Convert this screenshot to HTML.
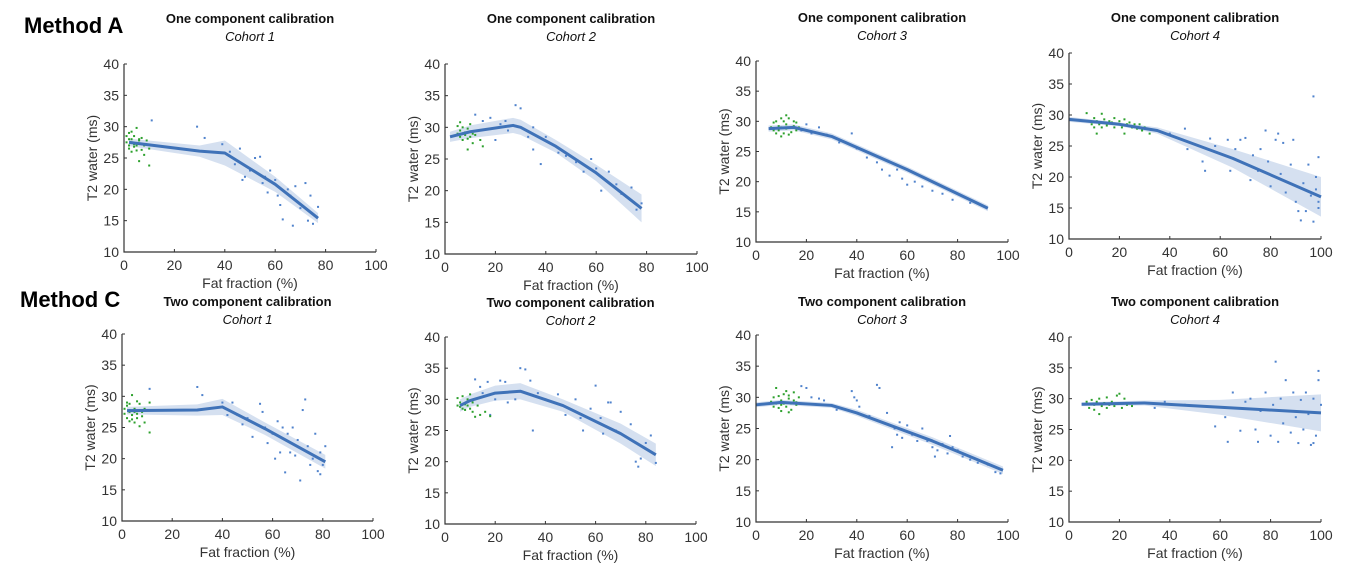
<!DOCTYPE html>
<html><head><meta charset="utf-8">
<style>
body{margin:0;background:#fff;width:1356px;height:586px;overflow:hidden;font-family:"Liberation Sans",sans-serif}
svg{display:block}
.tt{font-family:"Liberation Sans",sans-serif;font-weight:bold;font-size:13px;fill:#111}
.ti{font-family:"Liberation Sans",sans-serif;font-style:italic;font-size:13px;fill:#111}
.tk{font-size:14px;fill:#333;font-family:"Liberation Sans",sans-serif}
.al{font-size:14px;fill:#333;font-family:"Liberation Sans",sans-serif}
.meth{font-family:"Liberation Sans",sans-serif;font-weight:bold;font-size:22px;fill:#000}
</style></head><body>
<svg id="fig" width="1356" height="586">
<text class="meth" x="24" y="33">Method A</text>
<text class="meth" x="20" y="307">Method C</text>
</svg>
<script>
const panelNames=["a-cohort1","a-cohort2","a-cohort3","a-cohort4","c-cohort1","c-cohort2","c-cohort3","c-cohort4"];
const panelTitles=["One component calibration","One component calibration","One component calibration","One component calibration","Two component calibration","Two component calibration","Two component calibration","Two component calibration"];
const panelCohorts=["Cohort 1","Cohort 2","Cohort 3","Cohort 4","Cohort 1","Cohort 2","Cohort 3","Cohort 4"];
const xTicks=[0,20,40,60,80,100];
const yTicks=[10,15,20,25,30,35,40];
// fit lines: [x, y, halfwidth of CI]
const fitLines=[
[[2,27.5,0.6],[30,26.1,0.9],[40,25.8,2.0],[60,20.8,1.2],[77,15.4,0.8]],
[[2,28.5,0.8],[10,29.3,1.0],[27,30.3,1.2],[30,30,1.2],[44,27,1.0],[60,22.8,1.3],[78,17.2,2.2]],
[[5,28.8,0.5],[15,29,0.5],[30,27.5,0.5],[60,22,0.5],[92,15.6,0.5]],
[[0,29.3,0.4],[20,28.5,0.3],[35,27.5,0.5],[65,23,1.5],[100,16.8,3.2]],
[[2,27.7,0.6],[30,27.8,0.9],[40,28.3,1.3],[57,24.8,1.0],[81,19.5,1.1]],
[[6,29,1.0],[10,29.8,1.0],[20,31,1.2],[30,31.3,1.3],[47,29,1.0],[70,24.5,1.6],[84,21.1,1.8]],
[[0,28.8,0.4],[10,29.2,0.4],[30,28.7,0.4],[40,27.5,0.5],[70,23,0.6],[98,18.3,0.6]],
[[5,29.1,0.3],[30,29.3,0.4],[60,28.6,1.2],[100,27.7,3.0]]
];
const bluePts=[
[[11,31],[29,30],[32,28.2],[39,27.2],[42,26],[44,24],[46,26.5],[48,22],[50,23],[52,25],[54,25.2],[55,21],[56,22],[58,23],[60,21.5],[61,19],[62,17.5],[63,15.2],[65,20],[66,19],[67,14.2],[68,20.5],[70,17],[72,21],[73,15],[74,19],[75,14.5],[77,17.2],[47,21.5],[57,19.5]],
[[12,32],[15,31],[18,31.5],[22,30.5],[25,29.5],[28,33.5],[30,33],[33,28.5],[35,30],[38,24.2],[40,28.5],[45,26],[48,25.5],[52,24.5],[55,23],[58,25],[60,23.5],[62,20],[65,23],[68,21],[70,19.5],[72,19],[74,20.5],[76,17],[78,18],[20,28],[24,31],[35,26.5]],
[[18,28.5],[22,28],[25,29],[28,27.8],[38,28],[40,25.5],[44,24],[48,23.2],[50,22],[53,21],[56,22],[58,20.5],[60,19.5],[63,20],[66,19.2],[70,18.5],[74,18],[78,17],[85,16.5],[91,15.8],[20,29.5],[33,26.5]],
[[40,27],[46,27.8],[47,24.5],[53,22.5],[54,21],[56,26.2],[58,25],[63,26],[64,21],[66,24.5],[68,26],[70,26.3],[72,19.5],[73,23.5],[75,21],[76,24.5],[78,27.5],[79,22.5],[80,18.5],[82,26],[83,27],[84,20.5],[85,25.5],[86,17.5],[88,22],[89,26],[90,16],[91,14.5],[92,13],[93,19],[94,14.5],[95,22],[96,17],[97,33],[97,12.8],[98,20],[99,15],[99,23.2],[99,16],[98,18]],
[[11,31.2],[30,31.5],[32,30.2],[40,29],[42,27],[44,29],[46,27],[48,25.5],[50,26.5],[52,23.5],[55,28.8],[56,27.5],[57,25],[58,22.5],[60,24],[61,20],[62,26],[63,21],[64,25],[65,17.8],[66,24],[67,21],[68,25],[69,20.5],[70,23],[71,16.5],[72,27.8],[73,29.5],[74,22],[75,19],[76,20],[77,24],[78,18],[79,21],[80,19],[81,22],[79,17.5]],
[[12,33.2],[14,32],[15,31],[17,32.8],[20,30],[22,33],[24,32.8],[25,29.5],[28,30],[30,35],[32,34.8],[34,33],[35,25],[37,31],[40,30],[45,30.8],[48,27.5],[52,30],[54,27],[55,25],[58,28.5],[60,32.2],[62,27],[63,24.5],[65,29.5],[66,29.5],[68,25],[70,28],[72,24],[74,26],[76,20],[77,19.2],[78,20.5],[80,23],[82,24.2],[84,19.8],[18,27.5]],
[[18,31.8],[20,31.5],[22,30],[25,29.8],[27,29.5],[32,28],[38,31],[39,30],[40,29.5],[41,28.5],[45,27],[48,32],[49,31.5],[50,26],[52,27.5],[54,22],[55,25],[56,24],[57,26],[58,23.5],[60,25.5],[62,24],[64,23],[66,25],[68,23],[70,22],[71,20.5],[72,21.5],[74,22.5],[76,21],[77,23.8],[78,22],[80,21.5],[82,20.5],[85,20],[88,19.5],[92,19.2],[95,18],[97,17.8]],
[[34,28.5],[38,29.5],[46,29],[58,25.5],[62,27],[63,23],[65,31],[68,24.8],[70,29.5],[72,30],[74,25],[75,23],[76,28],[78,31],[80,24],[81,29],[82,36],[83,23],[84,30],[85,26],[86,33],[87,28],[88,24.5],[89,31],[90,27],[91,22.8],[92,29.8],[93,25],[94,31],[95,27.5],[96,22.5],[97,30],[98,24],[99,34.5],[99,33],[100,29],[97,22.8]]
];
const greenPts=[
[[1,27.5],[1,28.5],[2,26.5],[2,27],[2,29],[3,28],[3,26],[3,27.5],[4,26.8],[4,28.5],[4,27.2],[5,29.8],[5,27],[5,26.2],[6,28],[6,27.8],[6,24.5],[7,28.2],[7,26.3],[8,27],[8,25.5],[9,27.8],[10,26.5],[10,23.8],[3,29.2],[2,28]],
[[5,29],[5,30.2],[6,28.5],[6,29.5],[7,28],[7,30],[8,29.2],[8,28.8],[9,29.8],[9,28.2],[10,30.5],[10,28.5],[11,29],[11,27.5],[12,28.8],[13,29.5],[14,28],[15,27],[6,30.8],[9,26.5]],
[[6,29],[7,28.5],[7,29.8],[8,28],[8,30],[9,29.2],[9,28.5],[10,30.5],[10,29],[11,28],[11,30],[12,29.5],[12,28.8],[13,30.5],[13,27.8],[14,29],[14,28.2],[15,30],[15,29.2],[16,28.5],[16,29.8],[17,29],[10,27.5],[12,31]],
[[7,30.3],[8,29],[9,28.5],[10,29.5],[10,28],[11,29],[12,28.5],[13,30.2],[13,28],[14,29.3],[15,28.3],[16,29],[17,28.8],[18,29.5],[18,28],[19,28.5],[20,29],[21,28],[22,29.3],[22,27],[23,28.5],[24,28.8],[25,28],[26,28.5],[27,27.8],[28,28.5],[29,27.5],[30,28],[32,27],[11,27]],
[[1,28],[1,27.2],[2,29],[2,26.5],[2,28.5],[3,27.5],[3,26],[3,28.8],[4,27],[4,30.2],[4,26.3],[5,28],[5,27.5],[5,25.8],[6,29.2],[6,27.2],[6,26.5],[7,28.8],[7,25.2],[8,27.5],[8,26.8],[9,28],[9,25.8],[11,29],[11,24.2],[3,27.8]],
[[5,29],[5,30.2],[6,28.8],[6,29.5],[7,28.5],[7,30.5],[8,29.2],[8,28.3],[9,30],[9,29],[10,28.5],[10,30.8],[11,29.5],[11,28],[12,30],[13,29],[14,27.5],[16,28],[18,27.3],[12,27.2]],
[[6,29.3],[7,28.5],[7,30],[8,29],[8,31.5],[9,28.3],[9,30.2],[10,29.5],[10,28.8],[11,30.5],[11,29],[12,31],[12,28.5],[13,29.8],[13,30.3],[14,29],[14,28],[15,29.5],[15,30.8],[16,28.8],[16,29.2],[17,30],[10,27.8],[13,27.6]],
[[7,29.5],[8,28.5],[9,29.8],[10,29],[10,28.2],[11,29.5],[12,30],[13,28.8],[14,29.3],[15,30.2],[15,28.5],[16,29],[17,29.5],[18,28.8],[19,30.5],[20,29.2],[21,28.5],[22,30],[23,29],[24,29.3],[25,28.8],[12,27.5],[20,30.8]]
];
const boxes=[[124,376,64,252],[445,697,64,254],[756,1008,61,242],[1069,1321,53,239],[122,373,334,521],[445,696,337,524],[756,1008,335,522],[1069,1321,337,522]];
const titleY=[18,18,17,17,301,302,301,301];
const NS="http://www.w3.org/2000/svg";
const svg=document.getElementById('fig');
function mk(tag,attrs,parent){const e=document.createElementNS(NS,tag);for(const k in attrs)e.setAttribute(k,attrs[k]);(parent||svg).appendChild(e);return e;}
panelNames.forEach((pn,i)=>{
  const [x0,x1,yt,yb]=boxes[i];
  const sx=v=>x0+(x1-x0)*v/100;
  const sy=v=>yb-(yb-yt)*(v-10)/30;
  const g=mk('g',{});
  
  
  const cx=(x0+x1)/2;
  const t=mk('text',{x:cx,y:titleY[i]+5,'text-anchor':'middle',class:'tt'},g);t.textContent=panelTitles[i];
  
  
  const c=mk('text',{x:cx,y:titleY[i]+23,'text-anchor':'middle',class:'ti'},g);c.textContent=panelCohorts[i];
  
  
  const L=fitLines[i];
  let d='M'+L.map(p=>sx(p[0])+','+sy(p[1]+p[2])).join('L')+'L'+L.slice().reverse().map(p=>sx(p[0])+','+sy(p[1]-p[2])).join('L')+'Z';
  const band=mk('path',{d:d,fill:'#d5e0f0'},g);
  
  
  bluePts[i].forEach(p=>{const r=mk('rect',{x:sx(p[0])-1,y:sy(p[1])-1,width:2,height:2,fill:'#4f82cc'},g);
    
    });
  greenPts[i].forEach(p=>{const r=mk('rect',{x:sx(p[0])-1,y:sy(p[1])-1,width:2,height:2,fill:'#2ca02c'},g);
    
    });
  const ln=mk('polyline',{points:L.map(p=>sx(p[0])+','+sy(p[1])).join(' '),fill:'none',stroke:'#3f72b8','stroke-width':3,'stroke-linejoin':'round'},g);
  
  
  const ax=mk('path',{d:`M${x0},${yt}V${yb}H${x1}`,fill:'none',stroke:'#333','stroke-width':1.2},g);
  
  
  xTicks.forEach(v=>{mk('line',{x1:sx(v),x2:sx(v),y1:yb,y2:yb-3,stroke:'#333'},g);
    const tx=mk('text',{x:sx(v),y:yb+18,'text-anchor':'middle',class:'tk'},g);tx.textContent=v;
    
    });
  yTicks.forEach(v=>{mk('line',{x1:x0,x2:x0+3,y1:sy(v),y2:sy(v),stroke:'#333'},g);
    const ty=mk('text',{x:x0-5,y:sy(v)+5,'text-anchor':'end',class:'tk'},g);ty.textContent=v;
    
    });
  const xl=mk('text',{x:cx,y:yb+36,'text-anchor':'middle',class:'al'},g);xl.textContent='Fat fraction (%)';
  
  
  const ym=(yt+yb)/2;
  const yx=x0-27;
  const yl=mk('text',{x:yx,y:ym,'text-anchor':'middle',class:'al',transform:`rotate(-90 ${yx} ${ym})`},g);yl.textContent='T2 water (ms)';
  
  
});
</script>
</body></html>
